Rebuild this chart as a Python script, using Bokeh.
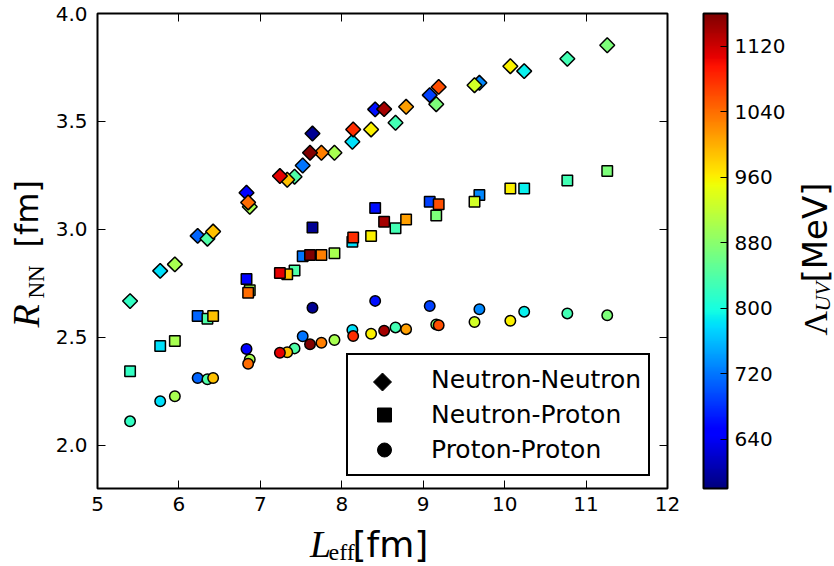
import numpy as np
from bokeh.plotting import figure
from bokeh.layouts import row, column
from bokeh.models import (ColumnDataSource, LinearColorMapper, ColorBar, FixedTicker,
                          LinearAxis, Range1d, Legend, LegendItem, Label, PolyAnnotation)
from bokeh.transform import transform
from bokeh.embed import file_html
from bokeh.resources import INLINE

# ---------------- data ----------------
L_eff = [5.40, 5.77, 5.95, 6.23, 6.35, 6.42, 6.83, 6.85, 6.87, 7.24, 7.33,
         7.42, 7.52, 7.61, 7.64, 7.75, 7.91, 8.13, 8.14, 8.36, 8.41, 8.52,
         8.66, 8.79, 9.08, 9.16, 9.19, 9.63, 9.69, 10.07, 10.24, 10.77, 11.26]
lambda_uv = [820, 780, 900, 710, 840, 990, 650, 1040, 900, 1110, 990,
             840, 720, 1160, 590, 1030, 900, 780, 1080, 960, 660, 1140,
             830, 1010, 690, 870, 1060, 930, 730, 960, 790, 830, 870]
R_nn = [2.668, 2.808, 2.838, 2.970, 2.957, 2.990, 3.170, 3.125, 3.105, 3.247, 3.230,
        3.244, 3.296, 3.355, 3.444, 3.355, 3.355, 3.406, 3.463, 3.463, 3.556, 3.557,
        3.494, 3.568, 3.622, 3.580, 3.660, 3.668, 3.679, 3.756, 3.733, 3.790, 3.853]
R_np = [2.343, 2.460, 2.483, 2.599, 2.586, 2.599, 2.770, 2.707, 2.718, 2.798, 2.792,
        2.810, 2.876, 2.881, 3.009, 2.882, 2.890, 2.943, 2.963, 2.969, 3.099, 3.035,
        3.005, 3.046, 3.128, 3.065, 3.116, 3.128, 3.159, 3.190, 3.190, 3.227, 3.270]
R_pp = [2.111, 2.204, 2.227, 2.312, 2.306, 2.312, 2.446, 2.378, 2.398, 2.429, 2.431,
        2.449, 2.505, 2.468, 2.637, 2.475, 2.488, 2.534, 2.506, 2.517, 2.669, 2.531,
        2.546, 2.538, 2.645, 2.560, 2.556, 2.571, 2.630, 2.577, 2.619, 2.611, 2.602]

x_ticks = [5, 6, 7, 8, 9, 10, 11, 12]
y_ticks = [2.0, 2.5, 3.0, 3.5, 4.0]
cbar_ticks = [640, 720, 800, 880, 960, 1040, 1120]
series_names = ["Neutron-Neutron", "Neutron-Proton", "Proton-Proton"]

# ---------------- jet colormap ----------------
def jet_palette(n=256):
    t = np.linspace(0, 1, n)
    r = np.interp(t, [0, 0.35, 0.66, 0.89, 1], [0, 0, 1, 1, 0.5])
    g = np.interp(t, [0, 0.125, 0.375, 0.64, 0.91, 1], [0, 0, 1, 1, 0, 0])
    b = np.interp(t, [0, 0.11, 0.34, 0.65, 1], [0.5, 1, 1, 0, 0])
    return ["#%02x%02x%02x" % (int(round(rr * 255)), int(round(gg * 255)), int(round(bb * 255)))
            for rr, gg, bb in zip(r, g, b)]

mapper = LinearColorMapper(palette=jet_palette(), low=580, high=1160)

order = np.argsort(np.array(lambda_uv), kind="stable")
src = ColumnDataSource(dict(
    x=[L_eff[i] for i in order],
    lam=[lambda_uv[i] for i in order],
    nn=[R_nn[i] for i in order],
    np_=[R_np[i] for i in order],
    pp=[R_pp[i] for i in order],
))

# ---------------- layout sizes ----------------
W_YLAB, W_MAIN, W_CLAB = 52, 740, 42
H_MAIN, H_XLAB = 522, 44
H_TOTAL = H_MAIN + H_XLAB

# ---------------- main figure ----------------
p = figure(width=W_MAIN, height=H_MAIN, x_range=Range1d(5, 12), y_range=Range1d(1.8, 4.0),
           output_backend="svg", toolbar_location=None,
           min_border_left=45, min_border_right=W_MAIN - 45 - 570, min_border_top=13,
           min_border_bottom=H_MAIN - 13 - 475)
p.xgrid.visible = False
p.ygrid.visible = False
p.outline_line_color = "black"
p.outline_line_width = 2
p.outline_line_alpha = 1
p.background_fill_color = "white"
p.border_fill_color = "white"

def style_axis(ax, ticks, show_labels=True, standoff=8):
    ax.ticker = FixedTicker(ticks=ticks)
    ax.major_tick_in = 8
    ax.major_tick_out = 0
    ax.minor_tick_in = 0
    ax.minor_tick_out = 0
    ax.major_tick_line_color = "black"
    ax.major_tick_line_width = 1
    ax.axis_line_color = None
    ax.major_label_text_font = "DejaVu Sans"
    if show_labels:
        ax.major_label_text_color = "black"
        ax.major_label_text_font_size = "20px"
        ax.major_label_standoff = standoff
    else:
        ax.major_label_overrides = {t: "" for t in ticks}
        ax.major_label_text_color = None
        ax.major_label_text_font_size = "1px"
        ax.major_label_standoff = 0

style_axis(p.xaxis[0], x_ticks, standoff=8)
style_axis(p.yaxis[0], y_ticks, standoff=10)
p.xaxis[0].major_label_overrides = {t: str(t) for t in x_ticks}
p.yaxis[0].major_label_overrides = {t: "%.1f" % t for t in y_ticks}

top_ax = LinearAxis()
style_axis(top_ax, x_ticks, show_labels=False)
p.add_layout(top_ax, "above")
right_ax = LinearAxis()
style_axis(right_ax, y_ticks, show_labels=False)
p.add_layout(right_ax, "right")

common = dict(source=src, fill_color=transform("lam", mapper), line_color="black", line_width=1.5)
p.scatter(x="x", y="nn", marker="square", angle=np.pi / 4, size=10.5, **common)
p.scatter(x="x", y="np_", marker="square", size=10.5, **common)
p.scatter(x="x", y="pp", marker="circle", size=10.5, **common)

# ---------------- legend ----------------
nan = float("nan")
dummy_nn = p.scatter(x=[nan], y=[nan], marker="square", fill_alpha=0, line_alpha=0)
dummy_np = p.scatter(x=[nan], y=[nan], marker="square", fill_color="black", line_color="black")
dummy_pp = p.scatter(x=[nan], y=[nan], marker="circle", fill_color="black", line_color="black")

leg_pad, glyph_w, glyph_h = 7, 58, 35
leg_left, leg_bottom = 249, 12
cx = leg_left + leg_pad + glyph_w / 2
cy = leg_bottom + leg_pad + 2.5 * glyph_h
d = 9
# diamond symbol of the first legend entry (the legend box itself is transparent)
p.add_layout(PolyAnnotation(xs=[cx - d, cx, cx + d, cx], ys=[cy, cy + d, cy, cy - d],
                            xs_units="screen", ys_units="screen", fill_color="black",
                            fill_alpha=1, line_color="black", line_alpha=1, line_width=1))

legend = Legend(items=[LegendItem(label=series_names[0], renderers=[dummy_nn]),
                       LegendItem(label=series_names[1], renderers=[dummy_np]),
                       LegendItem(label=series_names[2], renderers=[dummy_pp])],
                location=(leg_left, leg_bottom), padding=leg_pad, spacing=0, margin=0,
                glyph_width=glyph_w, glyph_height=glyph_h, label_standoff=18,
                label_text_font="DejaVu Sans", label_text_font_size="25px",
                label_text_color="black", border_line_color="black", border_line_width=2,
                border_line_alpha=1, background_fill_alpha=0)
p.add_layout(legend, "center")

# ---------------- colour bar ----------------
cbar = ColorBar(color_mapper=mapper, ticker=FixedTicker(ticks=cbar_ticks),
                width=24, height=475, padding=0, margin=0, location=(36, 0),
                major_label_text_font="DejaVu Sans", major_label_text_font_size="20px",
                major_label_text_color="black", label_standoff=7,
                major_tick_line_color="black", major_tick_in=7, major_tick_out=0,
                minor_tick_line_color=None, bar_line_color="black", bar_line_width=2,
                background_fill_color="white", title=None)
p.add_layout(cbar, "right")

# ---------------- strips holding the axis titles (mixed fonts) ----------------
def strip(w, h):
    f = figure(width=w, height=h, x_range=Range1d(0, w), y_range=Range1d(0, h),
               x_axis_type=None, y_axis_type=None, output_backend="svg",
               toolbar_location=None, min_border=0)
    f.outline_line_color = None
    f.background_fill_color = "white"
    f.border_fill_color = "white"
    return f

# half of (ascent - descent): distance from the text's middle to its baseline, in em
MID = {"Liberation Serif": 0.3375, "DejaVu Sans": 0.346}

def lab(f, text, x, y, font, size, style="normal", rotated=False):
    """x, y: start of the text on its baseline, in the strip's pixel coordinates."""
    k = MID[font] * size
    if rotated:       # text reads upwards; "up" of the glyphs points to -x
        x, angle = x - k, np.pi / 2
    else:
        y, angle = y + k, 0.0
    f.add_layout(Label(x=x, y=y, text=text, text_font=font, text_font_size="%dpx" % size,
                       text_font_style=style, text_align="left", text_baseline="middle",
                       angle=angle, text_color="black"))

# y label  R_NN [fm]   (strip covers page x 0..52; y measured upwards from page bottom)
ylab = strip(W_YLAB, H_TOTAL)
lab(ylab, "R", 38.5, H_TOTAL - 327, "Liberation Serif", 38, "italic", True)
lab(ylab, "NN", 44, H_TOTAL - 298, "Liberation Serif", 23, "normal", True)
lab(ylab, "[fm]", 38, H_TOTAL - 247, "DejaVu Sans", 32, "normal", True)

# x label  L_eff [fm]   (strip covers page y 522..566, x 52..792)
xlab = strip(W_MAIN, H_XLAB)
lab(xlab, "L", 328 - W_YLAB, 566 - 556, "Liberation Serif", 38, "italic")
lab(xlab, "eff", 352 - W_YLAB, 566 - 560, "Liberation Serif", 24)
lab(xlab, "[fm]", 383 - W_YLAB, 566 - 556, "DejaVu Sans", 36)

# colour bar label  Λ_UV [MeV]   (strip covers page x 792..834)
x0 = W_YLAB + W_MAIN
clab = strip(W_CLAB, H_TOTAL)
lab(clab, "Λ", 826 - x0, H_TOTAL - 335, "Liberation Serif", 34, "normal", True)
lab(clab, "UV", 829 - x0, H_TOTAL - 311, "Liberation Serif", 22, "italic", True)
lab(clab, "[MeV]", 826 - x0, H_TOTAL - 282, "DejaVu Sans", 34, "normal", True)

layout = row(ylab, column(p, xlab), clab)
open("out.html", "w").write(file_html(layout, INLINE))
